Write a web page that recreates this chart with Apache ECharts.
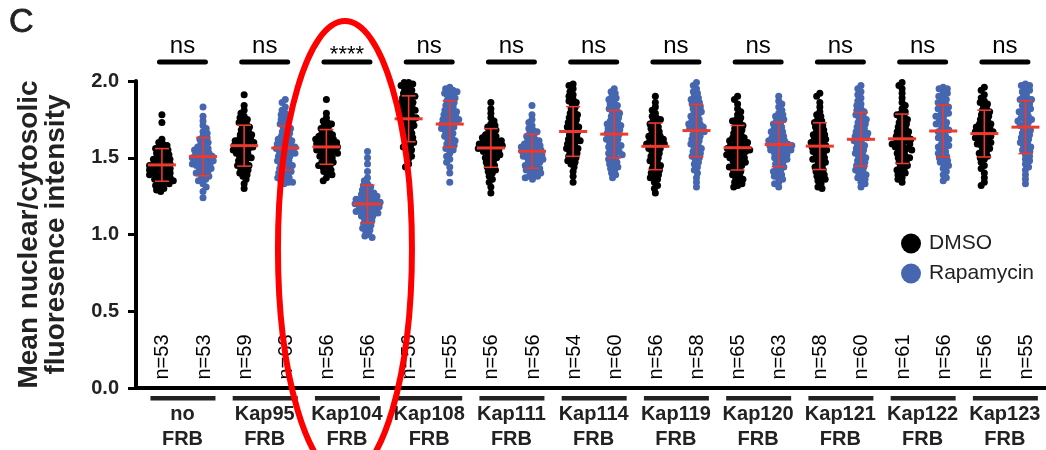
<!DOCTYPE html>
<html>
<head>
<meta charset="utf-8">
<script src="https://cdn.jsdelivr.net/npm/echarts@6/dist/echarts.min.js"></script>
<style>
  html, body { margin: 0; padding: 0; background: #fff; }
  #chart { width: 1046px; height: 450px; }
</style>
</head>
<body>
<div id="chart"></div>
<script>
// values, one array per condition
const noFRB_DMSO = [1.78,1.73,1.62,1.60,1.59,1.58,1.57,1.56,1.56,1.55,1.54,1.53,1.53,1.52,1.51,1.50,1.50,1.49,1.49,1.48,1.47,1.47,1.46,1.46,1.45,1.45,1.44,1.44,1.43,1.43,1.42,1.42,1.41,1.41,1.40,1.40,1.39,1.39,1.38,1.38,1.37,1.36,1.36,1.35,1.35,1.34,1.33,1.33,1.32,1.31,1.30,1.29,1.28];
const noFRB_Rapa = [1.83,1.77,1.74,1.71,1.69,1.67,1.66,1.64,1.63,1.62,1.61,1.60,1.59,1.58,1.57,1.56,1.56,1.55,1.54,1.54,1.53,1.52,1.52,1.51,1.51,1.50,1.50,1.49,1.49,1.48,1.48,1.47,1.47,1.46,1.46,1.45,1.45,1.44,1.43,1.43,1.42,1.41,1.40,1.40,1.39,1.38,1.37,1.36,1.35,1.33,1.31,1.28,1.24];
const kap95_DMSO = [1.91,1.84,1.81,1.79,1.77,1.76,1.75,1.74,1.73,1.72,1.71,1.70,1.69,1.68,1.67,1.66,1.65,1.65,1.64,1.63,1.62,1.62,1.61,1.61,1.60,1.60,1.59,1.59,1.58,1.58,1.57,1.57,1.56,1.56,1.55,1.55,1.54,1.53,1.53,1.52,1.51,1.50,1.50,1.49,1.48,1.47,1.46,1.45,1.45,1.44,1.43,1.42,1.41,1.40,1.39,1.38,1.36,1.33,1.30];
const kap95_Rapa = [1.88,1.86,1.83,1.81,1.79,1.78,1.76,1.75,1.74,1.73,1.72,1.71,1.70,1.69,1.68,1.67,1.66,1.65,1.64,1.63,1.62,1.62,1.61,1.60,1.60,1.59,1.58,1.58,1.57,1.57,1.56,1.56,1.55,1.55,1.54,1.53,1.53,1.52,1.51,1.51,1.50,1.49,1.48,1.48,1.47,1.46,1.45,1.45,1.44,1.43,1.42,1.41,1.41,1.40,1.39,1.38,1.37,1.37,1.36,1.35,1.34,1.34,1.33];
const kap104_DMSO = [1.88,1.79,1.76,1.74,1.73,1.72,1.71,1.70,1.69,1.68,1.67,1.66,1.65,1.65,1.64,1.63,1.63,1.62,1.62,1.61,1.61,1.60,1.60,1.59,1.59,1.58,1.58,1.57,1.57,1.56,1.56,1.55,1.55,1.54,1.54,1.53,1.53,1.52,1.51,1.51,1.50,1.49,1.48,1.47,1.47,1.46,1.45,1.45,1.44,1.43,1.42,1.41,1.40,1.39,1.37,1.35];
const kap104_Rapa = [1.54,1.50,1.46,1.41,1.37,1.35,1.33,1.32,1.31,1.30,1.29,1.28,1.27,1.27,1.26,1.25,1.25,1.24,1.24,1.23,1.23,1.22,1.22,1.21,1.21,1.21,1.20,1.20,1.19,1.19,1.18,1.18,1.17,1.17,1.16,1.16,1.15,1.15,1.14,1.14,1.13,1.12,1.12,1.11,1.10,1.09,1.08,1.07,1.06,1.05,1.04,1.03,1.02,1.00,0.99,0.98];
const kap108_DMSO = [1.99,1.99,1.98,1.97,1.96,1.95,1.94,1.93,1.92,1.91,1.90,1.90,1.89,1.88,1.87,1.86,1.86,1.85,1.84,1.83,1.82,1.82,1.81,1.80,1.80,1.79,1.78,1.77,1.76,1.76,1.75,1.74,1.73,1.72,1.71,1.70,1.69,1.68,1.67,1.66,1.65,1.64,1.63,1.62,1.61,1.60,1.59,1.58,1.57,1.56,1.55,1.53,1.51,1.49,1.46,1.44];
const kap108_Rapa = [1.96,1.95,1.94,1.93,1.93,1.92,1.91,1.90,1.89,1.88,1.87,1.86,1.85,1.84,1.83,1.82,1.81,1.80,1.80,1.79,1.78,1.77,1.77,1.76,1.75,1.75,1.74,1.73,1.73,1.72,1.71,1.70,1.70,1.69,1.68,1.67,1.66,1.65,1.64,1.63,1.62,1.61,1.60,1.59,1.58,1.57,1.56,1.55,1.53,1.51,1.49,1.47,1.44,1.40,1.34];
const kap111_DMSO = [1.86,1.82,1.79,1.76,1.74,1.72,1.71,1.70,1.69,1.68,1.67,1.66,1.65,1.64,1.64,1.63,1.62,1.62,1.61,1.61,1.60,1.60,1.59,1.59,1.58,1.58,1.58,1.57,1.57,1.56,1.56,1.55,1.55,1.54,1.54,1.53,1.52,1.52,1.51,1.50,1.50,1.49,1.48,1.47,1.46,1.45,1.44,1.43,1.42,1.41,1.40,1.38,1.36,1.34,1.31,1.27];
const kap111_Rapa = [1.84,1.78,1.75,1.73,1.71,1.69,1.68,1.67,1.66,1.65,1.64,1.63,1.62,1.61,1.61,1.60,1.59,1.59,1.58,1.58,1.57,1.57,1.56,1.56,1.55,1.55,1.54,1.54,1.53,1.53,1.52,1.52,1.51,1.51,1.50,1.50,1.49,1.49,1.48,1.47,1.47,1.46,1.45,1.45,1.44,1.43,1.43,1.42,1.41,1.41,1.40,1.39,1.38,1.38,1.37,1.36];
const kap114_DMSO = [1.98,1.97,1.95,1.93,1.91,1.90,1.88,1.87,1.86,1.85,1.83,1.82,1.80,1.79,1.78,1.77,1.76,1.75,1.74,1.73,1.72,1.71,1.70,1.70,1.69,1.68,1.67,1.66,1.65,1.64,1.63,1.62,1.61,1.61,1.60,1.59,1.58,1.57,1.56,1.56,1.55,1.54,1.53,1.52,1.51,1.50,1.49,1.48,1.47,1.46,1.44,1.41,1.38,1.34];
const kap114_Rapa = [1.95,1.93,1.92,1.90,1.89,1.88,1.86,1.85,1.84,1.83,1.82,1.81,1.80,1.79,1.78,1.77,1.76,1.75,1.74,1.73,1.72,1.72,1.71,1.70,1.69,1.69,1.68,1.67,1.66,1.66,1.65,1.64,1.63,1.62,1.62,1.61,1.60,1.59,1.58,1.58,1.57,1.56,1.55,1.54,1.53,1.53,1.52,1.51,1.50,1.49,1.48,1.47,1.46,1.45,1.44,1.43,1.42,1.40,1.39,1.37];
const kap119_DMSO = [1.90,1.86,1.83,1.81,1.79,1.77,1.76,1.75,1.74,1.73,1.72,1.71,1.70,1.69,1.68,1.67,1.66,1.65,1.64,1.64,1.63,1.62,1.62,1.61,1.60,1.60,1.59,1.59,1.58,1.57,1.56,1.56,1.55,1.54,1.53,1.52,1.51,1.50,1.49,1.48,1.47,1.46,1.45,1.44,1.43,1.42,1.41,1.40,1.39,1.38,1.37,1.36,1.34,1.32,1.30,1.27];
const kap119_Rapa = [1.99,1.97,1.95,1.93,1.92,1.90,1.89,1.88,1.87,1.86,1.85,1.84,1.83,1.82,1.81,1.80,1.79,1.78,1.77,1.76,1.75,1.74,1.73,1.72,1.72,1.71,1.70,1.70,1.69,1.68,1.68,1.67,1.66,1.65,1.64,1.63,1.62,1.61,1.60,1.59,1.58,1.57,1.56,1.55,1.54,1.53,1.52,1.51,1.50,1.49,1.47,1.46,1.44,1.42,1.40,1.37,1.34,1.31];
const kap120_DMSO = [1.90,1.88,1.85,1.82,1.80,1.78,1.76,1.75,1.74,1.73,1.72,1.71,1.70,1.69,1.68,1.67,1.66,1.65,1.64,1.63,1.63,1.62,1.61,1.61,1.60,1.60,1.59,1.58,1.58,1.57,1.57,1.56,1.56,1.55,1.55,1.54,1.54,1.53,1.53,1.52,1.51,1.51,1.50,1.50,1.49,1.48,1.48,1.47,1.46,1.45,1.45,1.44,1.43,1.42,1.41,1.40,1.39,1.38,1.37,1.36,1.35,1.34,1.33,1.32,1.31];
const kap120_Rapa = [1.90,1.87,1.85,1.83,1.81,1.79,1.78,1.77,1.76,1.75,1.74,1.73,1.72,1.71,1.70,1.69,1.68,1.67,1.67,1.66,1.65,1.64,1.63,1.63,1.62,1.61,1.61,1.60,1.60,1.59,1.59,1.58,1.58,1.57,1.57,1.56,1.56,1.55,1.55,1.54,1.53,1.53,1.52,1.51,1.50,1.50,1.49,1.48,1.47,1.46,1.45,1.44,1.43,1.42,1.41,1.40,1.39,1.38,1.37,1.36,1.34,1.33,1.31];
const kap121_DMSO = [1.92,1.90,1.86,1.83,1.80,1.78,1.77,1.75,1.74,1.73,1.72,1.71,1.70,1.69,1.68,1.67,1.66,1.65,1.65,1.64,1.63,1.62,1.62,1.61,1.60,1.60,1.59,1.58,1.58,1.57,1.56,1.56,1.55,1.54,1.54,1.53,1.52,1.51,1.50,1.49,1.49,1.48,1.47,1.46,1.45,1.44,1.43,1.42,1.41,1.40,1.39,1.38,1.37,1.36,1.35,1.33,1.31,1.30];
const kap121_Rapa = [1.97,1.95,1.93,1.91,1.89,1.87,1.85,1.84,1.82,1.81,1.80,1.79,1.78,1.77,1.76,1.75,1.74,1.73,1.72,1.71,1.70,1.69,1.68,1.67,1.66,1.66,1.65,1.64,1.63,1.63,1.62,1.61,1.60,1.59,1.58,1.57,1.56,1.55,1.54,1.53,1.52,1.51,1.50,1.49,1.48,1.47,1.46,1.45,1.44,1.43,1.42,1.41,1.40,1.39,1.38,1.37,1.36,1.34,1.33,1.31];
const kap122_DMSO = [1.99,1.97,1.95,1.92,1.89,1.86,1.84,1.82,1.80,1.79,1.78,1.77,1.76,1.75,1.74,1.73,1.72,1.71,1.70,1.69,1.68,1.67,1.67,1.66,1.65,1.64,1.64,1.63,1.62,1.62,1.61,1.60,1.60,1.59,1.59,1.58,1.57,1.57,1.56,1.55,1.55,1.54,1.53,1.52,1.51,1.50,1.50,1.49,1.48,1.47,1.46,1.45,1.44,1.43,1.42,1.41,1.40,1.39,1.37,1.36,1.34];
const kap122_Rapa = [1.96,1.95,1.95,1.93,1.92,1.90,1.90,1.88,1.87,1.86,1.85,1.83,1.83,1.82,1.81,1.80,1.79,1.78,1.77,1.77,1.75,1.74,1.73,1.72,1.72,1.70,1.69,1.68,1.67,1.67,1.65,1.64,1.63,1.62,1.62,1.60,1.59,1.58,1.57,1.57,1.55,1.54,1.53,1.52,1.51,1.50,1.49,1.48,1.47,1.46,1.45,1.43,1.41,1.39,1.37,1.35];
const kap123_DMSO = [1.96,1.94,1.91,1.89,1.87,1.86,1.85,1.84,1.82,1.81,1.80,1.79,1.78,1.77,1.76,1.75,1.74,1.73,1.72,1.72,1.71,1.70,1.70,1.69,1.68,1.68,1.67,1.67,1.66,1.65,1.65,1.64,1.63,1.63,1.62,1.61,1.60,1.60,1.59,1.58,1.57,1.56,1.55,1.54,1.53,1.52,1.51,1.50,1.49,1.47,1.45,1.43,1.40,1.37,1.34,1.32];
const kap123_Rapa = [1.98,1.97,1.97,1.95,1.94,1.93,1.92,1.90,1.89,1.88,1.88,1.86,1.85,1.84,1.83,1.82,1.81,1.80,1.80,1.78,1.77,1.76,1.75,1.75,1.74,1.73,1.72,1.71,1.70,1.69,1.68,1.67,1.66,1.65,1.64,1.63,1.62,1.61,1.60,1.59,1.58,1.57,1.56,1.55,1.54,1.52,1.51,1.49,1.48,1.46,1.44,1.42,1.39,1.36,1.33];

const groupNames = ['no', 'Kap95', 'Kap104', 'Kap108', 'Kap111', 'Kap114', 'Kap119', 'Kap120', 'Kap121', 'Kap122', 'Kap123'];
const significance = ['ns', 'ns', '****', 'ns', 'ns', 'ns', 'ns', 'ns', 'ns', 'ns', 'ns'];
const dmsoSets = [noFRB_DMSO, kap95_DMSO, kap104_DMSO, kap108_DMSO, kap111_DMSO, kap114_DMSO, kap119_DMSO, kap120_DMSO, kap121_DMSO, kap122_DMSO, kap123_DMSO];
const rapaSets = [noFRB_Rapa, kap95_Rapa, kap104_Rapa, kap108_Rapa, kap111_Rapa, kap114_Rapa, kap119_Rapa, kap120_Rapa, kap121_Rapa, kap122_Rapa, kap123_Rapa];

const FONT = '"Liberation Sans", Arial, Helvetica, sans-serif';
const BLUE = '#4666b0';
const RED = '#ec3a2e';
const TXT = '#222';

const chart = echarts.init(document.getElementById('chart'));

chart.setOption({
  animation: false,
  grid: { left: 136, right: 0, top: 81, bottom: 62 },
  xAxis: {
    type: 'value', min: -0.63, max: 21.5,
    axisLine: { show: true, onZero: false, lineStyle: { color: '#000', width: 4 } },
    axisTick: { show: false }, axisLabel: { show: false }, splitLine: { show: false }
  },
  yAxis: {
    type: 'value', min: 0, max: 2, interval: 0.5,
    axisLine: { show: true, onZero: false, lineStyle: { color: '#000', width: 4 } },
    axisTick: { show: true, length: 8, lineStyle: { color: '#000', width: 3 } },
    axisLabel: { margin: 17, fontFamily: FONT, fontWeight: 'bold', fontSize: 20, color: TXT,
      formatter: v => v.toFixed(1) },
    splitLine: { show: false }
  },
  legend: {
    data: ['DMSO', 'Rapamycin'], orient: 'vertical', left: 901, top: 233,
    icon: 'circle', itemWidth: 20, itemHeight: 20, itemGap: 9, padding: 0, selectedMode: false,
    textStyle: { fontFamily: FONT, fontSize: 21, color: TXT, padding: [0, 0, 0, 3] }
  },
  series: []
});

// beeswarm: spread dots sideways (pixels) so they don't stack
function swarm(pys, d) {
  const order = pys.map((y, i) => i).sort((a, b) => pys[a] - pys[b]);
  const placed = [];
  const dx = [];
  order.forEach((i, k) => {
    const y = pys[i];
    const near = placed.filter(p => Math.abs(p.y - y) < d);
    const cands = [0];
    near.forEach(p => {
      const h = Math.sqrt(d * d - (p.y - y) * (p.y - y));
      cands.push(p.x + h, p.x - h);
    });
    const sgn = k % 2 ? 1 : -1;
    cands.sort((a, b) => Math.abs(a) - Math.abs(b) || sgn * (a - b));
    const x = cands.find(c => near.every(p => (p.x - c) * (p.x - c) + (p.y - y) * (p.y - y) >= d * d - 0.01));
    dx[i] = x;
    placed.push({ x, y });
  });
  return dx;
}

const yPx = v => chart.convertToPixel({ yAxisIndex: 0 }, v);
const xPx = s => chart.convertToPixel({ xAxisIndex: 0 }, s);

function dotData(sets, offset) {
  const out = [];
  sets.forEach((vals, g) => {
    const slot = 2 * g + offset;
    const dx = swarm(vals.map(yPx), 4.4);
    vals.forEach((v, i) => out.push([slot, v, dx[i]]));
  });
  return out;
}

function stats(vals) {
  const m = vals.reduce((a, b) => a + b, 0) / vals.length;
  const sd = Math.sqrt(vals.reduce((a, b) => a + (b - m) * (b - m), 0) / (vals.length - 1));
  return [m, sd];
}

const barData = [];
dmsoSets.forEach((vals, g) => barData.push([2 * g].concat(stats(vals))));
rapaSets.forEach((vals, g) => barData.push([2 * g + 1].concat(stats(vals))));

function dotSeries(name, color, data) {
  return {
    name, type: 'custom', data, itemStyle: { color }, encode: { x: 0, y: 1 },
    renderItem: (params, api) => {
      const p = api.coord([api.value(0), api.value(1)]);
      return { type: 'circle', shape: { cx: p[0] + api.value(2), cy: p[1], r: 3.5 }, style: { fill: color } };
    }
  };
}

// annotations laid out from the axis scales
const graphics = [];
graphics.push({ type: 'text', x: 9, y: 6, style: { text: 'C', fontFamily: FONT, fontSize: 34, fill: TXT, stroke: TXT, lineWidth: 0.8 } });
graphics.push({
  type: 'text', x: 43, y: yPx(1), rotation: Math.PI / 2,
  style: { text: 'Mean nuclear/cytosolic\nfluoresence intensity', fontFamily: FONT, fontWeight: 'bold',
    fontSize: 28, lineHeight: 27, fill: TXT, align: 'center', verticalAlign: 'middle' }
});
groupNames.forEach((name, g) => {
  const gx = xPx(2 * g + 0.5);
  const star = significance[g] !== 'ns';
  graphics.push({ type: 'text', x: gx, y: star ? 55 : 46,
    style: { text: significance[g], fontFamily: FONT, fontSize: star ? 22 : 24, fill: '#000', align: 'center', verticalAlign: 'middle' } });
  graphics.push({ type: 'line', shape: { x1: gx - 23, y1: 62, x2: gx + 23, y2: 62 },
    style: { stroke: '#000', lineWidth: 5, lineCap: 'round' } });
  graphics.push({ type: 'rect', shape: { x: gx - 32, y: 396, width: 65, height: 4.5 }, style: { fill: '#222' } });
  graphics.push({ type: 'text', x: gx, y: 402,
    style: { text: name + '\nFRB', fontFamily: FONT, fontWeight: 'bold', fontSize: 20, lineHeight: 25, fill: TXT, align: 'center', verticalAlign: 'top' } });
});
const nSets = [];
dmsoSets.forEach((vals, g) => { nSets[2 * g] = vals.length; nSets[2 * g + 1] = rapaSets[g].length; });
nSets.forEach((n, s) => {
  graphics.push({ type: 'text', x: xPx(s) + 1, y: 357, rotation: Math.PI / 2,
    style: { text: 'n=' + n, fontFamily: FONT, fontSize: 20, fill: '#000', align: 'center', verticalAlign: 'middle' } });
});
graphics.push({ type: 'ellipse', z: 100, shape: { cx: xPx(4.5) - 2, cy: 249, rx: 67, ry: 228 },
  style: { fill: 'none', stroke: '#ff0000', lineWidth: 6 } });

chart.setOption({
  graphic: graphics,
  series: [
    dotSeries('DMSO', '#000', dotData(dmsoSets, 0)),
    dotSeries('Rapamycin', BLUE, dotData(rapaSets, 1)),
    {
      type: 'custom', data: barData, encode: { x: 0, y: 1 }, z: 5,
      renderItem: (params, api) => {
        const s = api.value(0), m = api.value(1), sd = api.value(2);
        const c = api.coord([s, m]), t = api.coord([s, m + sd]), b = api.coord([s, m - sd]);
        const st = { stroke: RED, lineWidth: 1.6 };
        return { type: 'group', children: [
          { type: 'line', shape: { x1: c[0], y1: t[1], x2: c[0], y2: b[1] }, style: st },
          { type: 'line', shape: { x1: c[0] - 7, y1: t[1], x2: c[0] + 7, y2: t[1] }, style: st },
          { type: 'line', shape: { x1: c[0] - 7, y1: b[1], x2: c[0] + 7, y2: b[1] }, style: st },
          { type: 'line', shape: { x1: c[0] - 14, y1: c[1], x2: c[0] + 14, y2: c[1] }, style: { stroke: RED, lineWidth: 3 } }
        ] };
      }
    }
  ]
});
</script>
</body>
</html>
